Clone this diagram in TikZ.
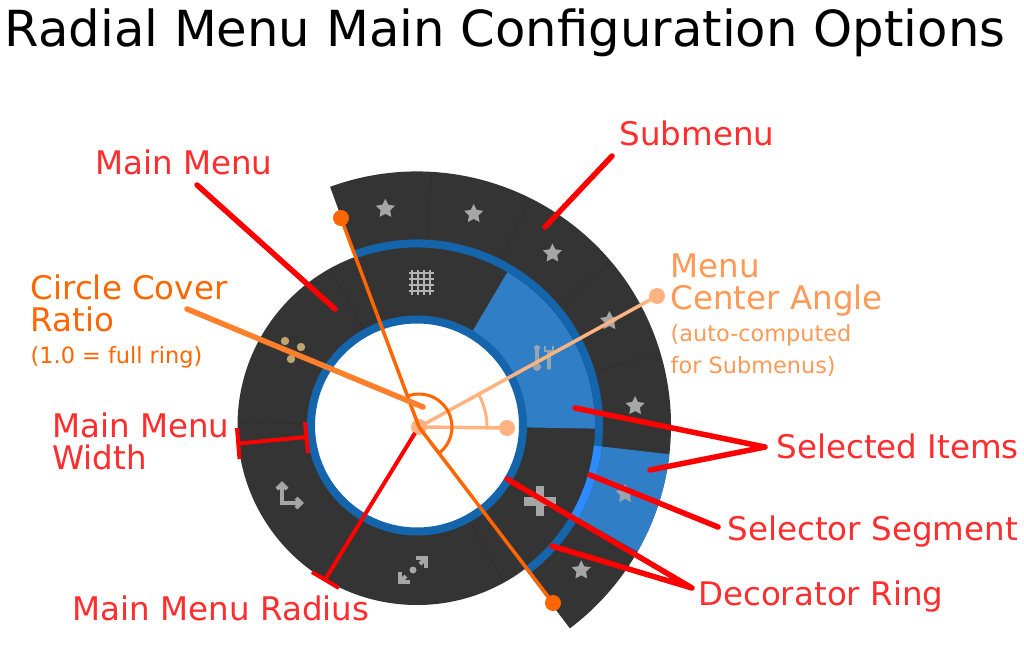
\documentclass[tikz,border=0pt]{standalone}
\usepackage{fontspec}
\setmainfont{DejaVu Sans}
\usetikzlibrary{shapes.geometric}
\definecolor{ringdark}{HTML}{343434}
\definecolor{deco}{HTML}{1565AD}
\definecolor{selblue}{HTML}{2F7EC6}
\definecolor{selector}{HTML}{2E8BFF}
\definecolor{redtext}{HTML}{FF2D2D}
\definecolor{lightor}{HTML}{FFB380}
\definecolor{midor}{HTML}{FF9955}
\definecolor{coveror}{HTML}{FF7F2A}
\definecolor{deepor}{HTML}{FF6600}
\definecolor{icon}{HTML}{A6A6A6}
\definecolor{iconsel}{HTML}{98A4B0}
\definecolor{tan}{HTML}{BFA56E}
\newcommand{\annsec}[5]{\fill[#1] (#2:#4pt) arc[start angle=#2,end angle=#3,radius=#4pt] -- (#3:#5pt) arc[start angle=#3,end angle=#2,radius=#5pt] -- cycle;}
\tikzset{
  lab/.style={anchor=base west,inner sep=0pt,font=\fontsize{#1}{#1}\selectfont},
  lab/.default=32.5,
  redlab/.style={lab,text=redtext},
  red leader/.style={draw=red,line width=5.5pt,line cap=round},
  thin red/.style={draw=red,line width=4pt},
  seam/.style={draw=black,line width=.6pt,opacity=.12},
  stardot/.style={star,star points=5,star point ratio=2.0,fill=#1,inner sep=0pt,minimum size=20pt,draw=none},
  dotm/.style={circle,fill=#1,inner sep=0pt,minimum size=16pt},
  glyph/.style={draw=icon,line width=4pt},
}
\begin{document}
\begin{tikzpicture}[x=1pt,y=-1pt]
\useasboundingbox (0,0) rectangle (1024,650);
\begin{scope}[shift={(417,425.5)}]
  % submenu ring
  \annsec{ringdark}{110}{-53}{254}{178}
  \annsec{selblue}{-6.5}{-29.8}{254}{186}
  \foreach \a in {86.7,63.4,40.1,16.8}{\draw[seam] (\a:186pt) -- (\a:254pt);}
  % main ring
  \fill[ringdark,even odd rule] (0,0) circle[radius=179.5pt] (0,0) circle[radius=105pt];
  \annsec{selblue}{59.5}{-1}{178}{106}
  \foreach \a in {119,-61,-121,-181}{\draw[seam] (\a:110pt) -- (\a:178pt);}
  % decorator rings
  \draw[deco,line width=8pt] (0,0) circle[radius=106pt];
  \draw[deco,line width=8pt] (110:182pt) arc[start angle=110,end angle=-53,radius=182pt];
  \draw[selector,line width=8pt] (-6.5:182pt) arc[start angle=-6.5,end angle=-29.8,radius=182pt];
  % stars
  \foreach \n/\a/\c in {1/98.3/icon,2/75/icon,3/51.8/icon,4/28.5/icon,5/5.1/icon,6/-18.2/iconsel,7/-41.4/icon}{
    \node[stardot=\c] (star\n) at (\a:219pt) {};
  }
\end{scope}
% grid icon
\foreach \d in {-9,-3,3,9}{
  \draw[icon!85!white,line width=2.8pt] (421+\d,270) -- (421+\d,295);
  \draw[icon!85!white,line width=2.8pt] (409,282+\d) -- (434,282+\d);
}
% tools icon
\draw[iconsel,line width=3.5pt,line cap=round] (537,350) -- (537,368);
\fill[iconsel] (537,348) circle[radius=3pt] (537,367) circle[radius=4pt];
\draw[iconsel,line width=3.5pt,line cap=round] (549,352) -- (549,368);
\draw[iconsel,line width=2.5pt] (545,346) -- (545,351) -- (553,351) -- (553,346);
% plus icon
\draw[icon,line width=8.5pt] (524,501.5) -- (556,501.5);
\draw[icon,line width=8.5pt] (540,486) -- (540,516);
% expand icon
\draw[glyph,line width=4.5pt] (416,558) -- (426,558) -- (426,568);
\draw[glyph] (425,559) -- (420,564);
\draw[glyph,line width=4.5pt] (410,582) -- (400,582) -- (400,572);
\draw[glyph] (401,581) -- (406,576);
\fill[icon] (413,570) circle[radius=3.5pt];
% axis icon
\draw[glyph,line width=4.5pt] (282,486) -- (282,503) -- (299,503);
\draw[glyph] (277,489) -- (282,484) -- (287,489);
\draw[glyph] (296,498) -- (301,503) -- (296,508);
% dots icon
\fill[tan] (285,341) circle[radius=4.2pt] (301,347) circle[radius=4.2pt] (291,359) circle[radius=4.2pt];
% markers
\coordinate (c) at (419,427);
\node[dotm=deepor] (capA) at (341,218) {};
\node[dotm=deepor] (capB) at (553,603) {};
\node[dotm=lightor] (ang) at (657,296) {};
\node[dotm=lightor] (ang0) at (507,428) {};
\node[dotm=lightor] (origin) at (419,427) {};
% light orange angle
\draw[lightor,line width=3.5pt] (origin.center) -- (ang.center);
\draw[lightor,line width=3.5pt] (origin.center) -- (ang0.center);
\draw[lightor,line width=3pt] ([shift={(0:68pt)}]origin.center) arc[start angle=0,end angle=28.7,radius=68pt];
% deep orange cover
\draw[deepor,line width=3.5pt] (origin.center) -- (capA.center);
\draw[deepor,line width=3.5pt] (origin.center) -- (capB.center);
\draw[deepor,line width=3pt] ([shift={(110:33pt)}]origin.center) arc[start angle=110,end angle=-53,radius=33pt];
% cover leader
\coordinate (coverA) at (187,309);
\coordinate (coverB) at (423,407);
\draw[coveror,line width=5.5pt,line cap=round] (coverA) -- (coverB);
% red leaders
\coordinate (mmA) at (197,185); \coordinate (mmB) at (335,309);
\draw[red leader] (mmA) -- (mmB);
\coordinate (smA) at (612,156); \coordinate (smB) at (545,227);
\draw[red leader] (smA) -- (smB);
\coordinate (siA) at (765,447); \coordinate (siB) at (575,408); \coordinate (siC) at (650,470);
\draw[red leader,line join=round] (siB) -- (siA) -- (siC);
\coordinate (ssA) at (718,527); \coordinate (ssB) at (590,475);
\draw[red leader] (ssA) -- (ssB);
\coordinate (drA) at (692,588); \coordinate (drB) at (507,479); \coordinate (drC) at (552,546);
\draw[red leader,line join=round] (drB) -- (drA) -- (drC);
% width dimension
\coordinate (wA) at (238,443.5); \coordinate (wB) at (307,437);
\coordinate (wA1) at (237,428); \coordinate (wA2) at (239.5,459);
\coordinate (wB1) at (305,422); \coordinate (wB2) at (308,453);
\draw[thin red] (wA) -- (wB);
\draw[thin red] (wA1) -- (wA2);
\draw[thin red] (wB1) -- (wB2);
% radius dimension
\coordinate (rA) at (415,433); \coordinate (rB) at (326,578);
\coordinate (rB1) at (312,572); \coordinate (rB2) at (339,588);
\draw[thin red] (rA) -- (rB);
\draw[thin red] (rB1) -- (rB2);
% texts
\node[lab=49.7] (title) at (4.5,47) {Radial Menu Main Configuration Options};
\node[redlab] (tSub) at (619.5,145) {Submenu};
\node[redlab] (tMain) at (95,174.5) {Main Menu};
\node[lab,text=deepor] (tCov1) at (30.5,299) {Circle Cover};
\node[lab,text=deepor] (tCov2) at (30.5,331) {Ratio};
\node[lab=22.4,text=deepor] (tCov3) at (30.5,363) {(1.0 = full ring)};
\node[redlab] (tW1) at (52,437) {Main Menu};
\node[redlab] (tW2) at (52,469) {Width};
\node[redlab] (tRad) at (72.5,620) {Main Menu Radius};
\node[lab,text=midor] (tAng1) at (670.5,277) {Menu};
\node[lab,text=midor] (tAng2) at (670.5,309) {Center Angle};
\node[lab=22.4,text=midor] (tAng3) at (670.5,341) {(auto-computed};
\node[lab=22.4,text=midor] (tAng4) at (670.5,373) {for Submenus)};
\node[redlab] (tSel) at (776.5,458) {Selected Items};
\node[redlab] (tSeg) at (727.5,540) {Selector Segment};
\node[redlab] (tDec) at (698,605) {Decorator Ring};
\end{tikzpicture}
\end{document}
